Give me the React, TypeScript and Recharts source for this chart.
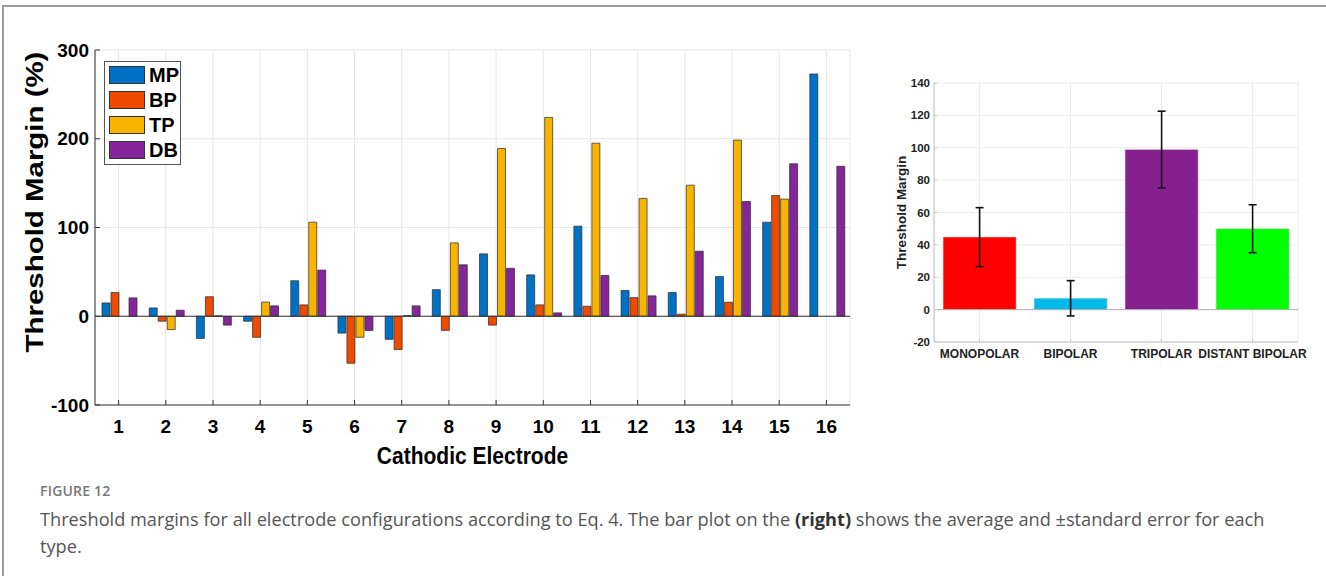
import React from 'react';
import {
  BarChart,
  Bar,
  XAxis,
  YAxis,
  CartesianGrid,
  ReferenceLine,
  Legend,
  ErrorBar,
  Cell,
} from 'recharts';

// ---------- Left chart data ----------
const electrodes = ['1', '2', '3', '4', '5', '6', '7', '8', '9', '10', '11', '12', '13', '14', '15', '16'];
const mpValues = [15, 9.4, -25, -5.6, 40, -19, -26, 30, 70.3, 46.6, 101.5, 29, 26.7, 44.7, 106, 273];
const bpValues = [26.7, -5.6, 22, -23.7, 12.8, -53, -37.6, -16, -10, 12.8, 11.3, 21, 2.3, 15.8, 136, 0];
const tpValues = [0, -15, 0.5, 16, 106, -23.7, 0.8, 82.7, 189, 224, 195, 132.7, 147.7, 198.5, 132, 0];
const dbValues = [20.7, 6.8, -10, 11.7, 52, -16, 11.7, 58, 54, 3.8, 45.9, 23, 73.3, 129.3, 171.8, 169];
const seriesNames = ['MP', 'BP', 'TP', 'DB'];
const seriesColors = ['#0072c6', '#ee4a00', '#f8b400', '#86259a'];
const leftYTicks = [-100, 0, 100, 200, 300];

// ---------- Right chart data ----------
const configs = ['MONOPOLAR', 'BIPOLAR', 'TRIPOLAR', 'DISTANT BIPOLAR'];
const configMeans = [44.8, 7.0, 98.9, 50.0];
const configErrors = [18.2, 10.9, 23.7, 14.8];
const configColors = ['#ff0000', '#00bbea', '#86208f', '#00ff00'];
const rightYTicks = [-20, 0, 20, 40, 60, 80, 100, 120, 140];

const leftData = electrodes.map((e, i) => ({
  electrode: e,
  MP: mpValues[i],
  BP: bpValues[i],
  TP: tpValues[i],
  DB: dbValues[i],
}));

const rightData = configs.map((c, i) => ({
  config: c,
  mean: configMeans[i],
  err: configErrors[i],
}));

const FONT = "'Liberation Sans', Arial, Helvetica, sans-serif";
const blank = () => '';

const renderLegend = () => {
  const items = seriesNames.map((n, i) => ({ value: n, color: seriesColors[i] }));
  return (
    <div
      style={{
        border: '1px solid #555',
        background: '#fff',
        width: 77,
        height: 104,
        boxSizing: 'border-box',
        padding: '0.5px 0 0 4px',
      }}
    >
      {items.map((it) => (
        <div key={it.value} style={{ display: 'flex', alignItems: 'center', height: 25 }}>
          <span
            style={{
              display: 'inline-block',
              width: 36,
              height: 18,
              background: it.color,
              border: '1px solid #333',
              boxSizing: 'border-box',
            }}
          />
          <span
            style={{
              marginLeft: 4,
              fontFamily: FONT,
              fontWeight: 'bold',
              fontSize: 20,
              color: '#000',
              lineHeight: '20px',
            }}
          >
            {it.value}
          </span>
        </div>
      ))}
    </div>
  );
};

const leftYLabel = (props: any) => {
  const vb = props.viewBox || { x: 35, y: 50, width: 60, height: 355 };
  const cx = vb.x;
  const cy = 202;
  return (
    <text
      transform={`translate(${cx},${cy}) rotate(-90) scale(1.28,1)`}
      x={0}
      y={0}
      textAnchor="middle"
      dominantBaseline="central"
      fontFamily={FONT}
      fontWeight="bold"
      fontSize={23}
      fill="#000"
    >
      Threshold Margin (%)
    </text>
  );
};

const leftXLabel = (props: any) => {
  const vb = props.viewBox || { x: 95, y: 405, width: 755, height: 60 };
  const cx = vb.x + vb.width / 2;
  const by = vb.y + 59;
  return (
    <text
      transform={`translate(${cx},${by}) scale(1,1.17)`}
      x={0}
      y={0}
      textAnchor="middle"
      fontFamily={FONT}
      fontWeight="bold"
      fontSize={21}
      fill="#000"
    >
      Cathodic Electrode
    </text>
  );
};

const rightYLabel = (props: any) => {
  const vb = props.viewBox || { x: 24, y: 83, width: 40, height: 259 };
  const cx = vb.x + 7;
  const cy = vb.y + vb.height / 2;
  return (
    <text
      transform={`translate(${cx},${cy}) rotate(-90)`}
      x={0}
      y={0}
      textAnchor="middle"
      dominantBaseline="central"
      fontFamily={FONT}
      fontWeight="bold"
      fontSize={13.5}
      fill="#222"
    >
      Threshold Margin
    </text>
  );
};

export default function App() {
  return (
    <div style={{ position: 'absolute', left: 0, top: 0, width: 1326, height: 576, background: '#fff', overflow: 'hidden' }}>
      {/* figure frame */}
      <div
        style={{
          position: 'absolute',
          left: 2,
          top: 5,
          width: 1340,
          height: 600,
          borderTop: '2px solid #9a9a9a',
          borderLeft: '2px solid #9a9a9a',
        }}
      />

      {/* Left chart */}
      <div style={{ position: 'absolute', left: 0, top: 0 }}>
        <BarChart
          width={870}
          height={480}
          data={leftData}
          margin={{ top: 50, right: 20, bottom: 15, left: 35 }}
          barCategoryGap={7}
          barGap={1}
        >
          <CartesianGrid stroke="#e6e6e6" strokeWidth={1} />
          <XAxis
            dataKey="electrode"
            interval={0}
            height={60}
            tickSize={-5}
            tickMargin={20}
            stroke="#333"
            tick={{ fontSize: 19, fontWeight: 'bold', fill: '#000', fontFamily: FONT }}
            label={leftXLabel}
          />
          <XAxis
            xAxisId="top"
            orientation="top"
            dataKey="electrode"
            interval={0}
            height={0}
            tickSize={-5}
            stroke="#333"
            tickFormatter={blank}
          />
          <YAxis
            type="number"
            domain={[-100, 300]}
            ticks={leftYTicks}
            interval={0}
            width={60}
            tickSize={-5}
            tickMargin={11}
            stroke="#333"
            tick={{ fontSize: 19, fontWeight: 'bold', fill: '#000', fontFamily: FONT }}
            label={leftYLabel}
          />
          <YAxis
            yAxisId="right"
            orientation="right"
            type="number"
            domain={[-100, 300]}
            ticks={leftYTicks}
            interval={0}
            width={0}
            tickSize={-5}
            stroke="#333"
            tickFormatter={blank}
          />
          <ReferenceLine y={0} stroke="#333" strokeWidth={1} />
          {seriesNames.map((name, i) => (
            <Bar
              key={name}
              dataKey={name}
              name={name}
              fill={seriesColors[i]}
              stroke="#2a2a2a"
              strokeWidth={0.7}
              isAnimationActive={false}
            />
          ))}
          <Legend
            layout="vertical"
            align="center"
            verticalAlign="middle"
            content={renderLegend}
            wrapperStyle={{ left: 104, top: 61, width: 77, height: 104, right: 'auto', bottom: 'auto' }}
          />
        </BarChart>
      </div>

      {/* Right chart */}
      <div style={{ position: 'absolute', left: 870, top: 0 }}>
        <BarChart
          width={456}
          height={420}
          data={rightData}
          margin={{ top: 83, right: 28, bottom: 48, left: 24 }}
          barCategoryGap="10%"
        >
          <CartesianGrid stroke="#ececec" strokeWidth={1} />
          <XAxis
            dataKey="config"
            interval={0}
            height={30}
            tickSize={-3}
            tickMargin={10}
            stroke="#c4c4c4"
            tick={{ fontSize: 12, fontWeight: 'bold', fill: '#222', fontFamily: FONT }}
          />
          <XAxis
            xAxisId="top"
            orientation="top"
            dataKey="config"
            interval={0}
            height={0}
            tickSize={0}
            stroke="#c4c4c4"
            tickFormatter={blank}
          />
          <YAxis
            type="number"
            domain={[-20, 140]}
            ticks={rightYTicks}
            interval={0}
            width={40}
            tickSize={-3}
            tickMargin={7}
            stroke="#c4c4c4"
            tick={{ fontSize: 11.5, fontWeight: 'bold', fill: '#222', fontFamily: FONT }}
            label={rightYLabel}
          />
          <YAxis
            yAxisId="right"
            orientation="right"
            type="number"
            domain={[-20, 140]}
            ticks={rightYTicks}
            interval={0}
            width={0}
            tickSize={-3}
            stroke="#c4c4c4"
            tickFormatter={blank}
          />
          <ReferenceLine y={0} stroke="#b0b0b0" strokeWidth={1} />
          <Bar dataKey="mean" isAnimationActive={false} stroke="#d0d0d0" strokeWidth={0.5}>
            {rightData.map((d, i) => (
              <Cell key={d.config} fill={configColors[i]} />
            ))}
            <ErrorBar dataKey="err" width={4} stroke="#111" strokeWidth={1.6} direction="y" />
          </Bar>
        </BarChart>
      </div>

      {/* Caption */}
      <div
        style={{
          position: 'absolute',
          left: 40,
          top: 482,
          fontFamily: "'Open Sans', 'Noto Sans', sans-serif",
          color: '#777',
          fontSize: 14,
          lineHeight: '18px',
          fontWeight: 600,
          letterSpacing: 0.2,
        }}
      >
        FIGURE 12
      </div>
      <div
        style={{
          position: 'absolute',
          left: 40,
          top: 506,
          fontFamily: "'Open Sans', 'Noto Sans', sans-serif",
          color: '#555',
          fontSize: 18.2,
          lineHeight: '27px',
          whiteSpace: 'nowrap',
        }}
      >
        Threshold margins for all electrode configurations according to Eq. 4. The bar plot on the{' '}
        <b style={{ color: '#333' }}>(right)</b> shows the average and ±standard error for each
        <br />
        type.
      </div>
    </div>
  );
}
